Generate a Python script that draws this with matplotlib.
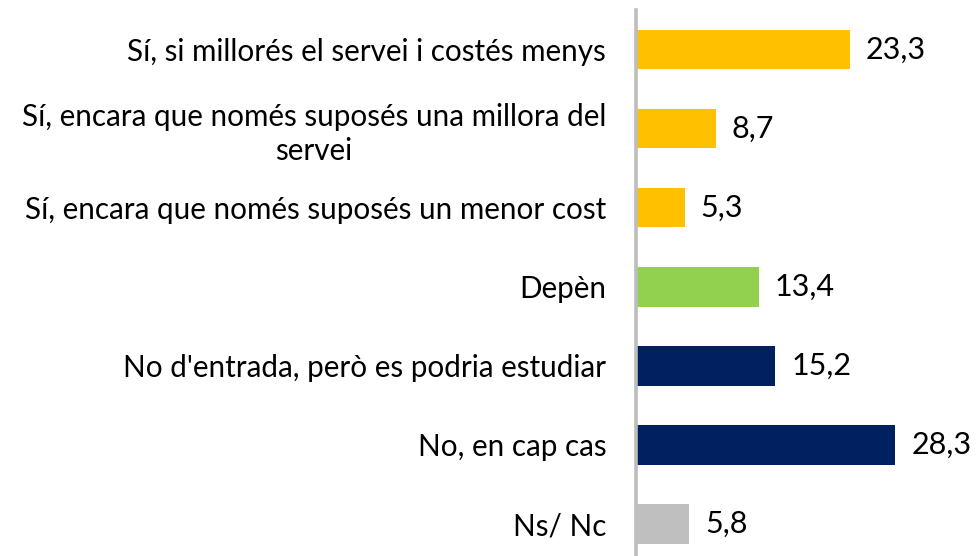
import matplotlib
matplotlib.use("Agg")
import matplotlib.pyplot as plt

categories = [
    "Sí, si millorés el servei i costés menys",
    "Sí, encara que només suposés una millora del\nservei",
    "Sí, encara que només suposés un menor cost",
    "Depèn",
    "No d'entrada, però es podria estudiar",
    "No, en cap cas",
    "Ns/ Nc",
]
values = [23.3, 8.7, 5.3, 13.4, 15.2, 28.3, 5.8]
colors = ["#FFC000", "#FFC000", "#FFC000", "#92D050", "#002060", "#002060", "#BFBFBF"]

W, H = 978, 556
fig = plt.figure(figsize=(W / 100, H / 100), dpi=100)
left = 636 / W
width = 275 / W
top = 1 - 10 / H
bottom = 1 - 563.5 / H
ax = fig.add_axes([left, bottom, width, top - bottom])

ypos = list(range(len(categories)))
ax.barh(ypos, values, height=0.5, color=colors)
ax.set_xlim(0, 30)
ax.set_ylim(len(categories) - 0.5, -0.5)

for s in ["top", "right", "bottom"]:
    ax.spines[s].set_visible(False)
ax.spines["left"].set_color("#BDBDBD")
ax.spines["left"].set_linewidth(2.6)
ax.set_xticks([])
ax.set_yticks(ypos)
ax.set_yticklabels(categories, fontsize=21.3, family="Lato", color="#000000",
                   multialignment="center", linespacing=1.25)
ax.tick_params(axis="y", length=0, pad=21.5)

for y, v in zip(ypos, values):
    ax.text(v + 1.75, y, f"{v:.1f}".replace(".", ","), va="center", ha="left",
            fontsize=22, family="Lato", color="#000000")

fig.savefig("out.png", dpi=100)
